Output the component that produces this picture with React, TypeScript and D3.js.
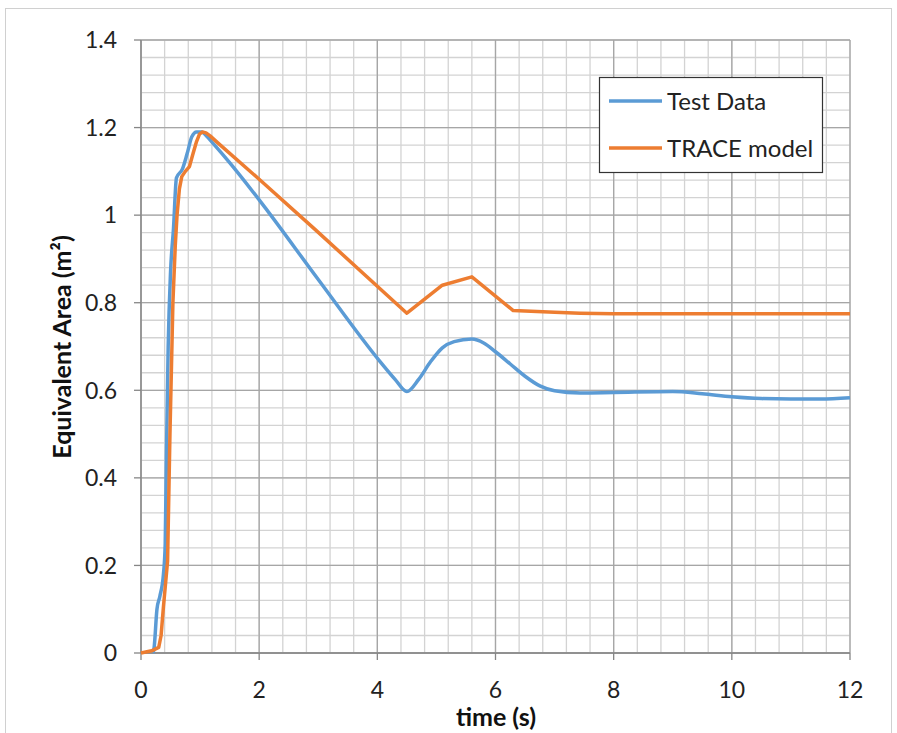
import React from "react";
import * as d3 from "d3";

const testT = [0.2, 0.22, 0.27, 0.32, 0.38, 0.41, 0.43, 0.46, 0.5, 0.55, 0.6, 0.7, 0.78, 0.86, 0.94, 1.03, 1.1, 1.22, 1.5, 2, 3, 4.05, 4.3, 4.5, 4.7, 4.9, 5.1, 5.3, 5.6, 5.8, 6.0, 6.25, 6.5, 6.75, 7.0, 7.43, 8, 9, 9.5, 10, 10.5, 11, 11.5, 12];
const testV = [0, 0.01, 0.1, 0.13, 0.18, 0.25, 0.45, 0.7, 0.87, 0.97, 1.085, 1.105, 1.14, 1.179, 1.19, 1.19, 1.182, 1.164, 1.12, 1.035, 0.853, 0.665, 0.625, 0.597, 0.625, 0.665, 0.697, 0.711, 0.717, 0.708, 0.688, 0.66, 0.632, 0.61, 0.599, 0.594, 0.595, 0.597, 0.592, 0.585, 0.581, 0.58, 0.58, 0.583];

const traceT = [0, 0.18, 0.3, 0.34, 0.38, 0.45, 0.49, 0.54, 0.58, 0.61, 0.65, 0.69, 0.75, 0.82, 0.88, 0.94, 0.99, 1.04, 1.1, 1.17, 1.3, 2, 2.94, 4.5, 5.1, 5.6, 6.3, 7.0, 7.43, 8, 10, 12];
const traceV = [0, 0.005, 0.013, 0.04, 0.106, 0.21, 0.5, 0.8, 0.93, 1.0, 1.06, 1.088, 1.1, 1.111, 1.14, 1.168, 1.185, 1.19, 1.188, 1.181, 1.165, 1.082, 0.968, 0.776, 0.84, 0.859, 0.782, 0.778, 0.776, 0.775, 0.775, 0.775];

const xTicks = [0, 2, 4, 6, 8, 10, 12];
const yTicks = [0, 0.2, 0.4, 0.6, 0.8, 1, 1.2, 1.4];
const seriesNames = ["Test Data", "TRACE model"];
const colors = ["#5B9BD5", "#ED7D31"];

export default function App() {
  const W = 897, H = 733;
  const left = 141, right = 850, top = 40, bottom = 653;
  const x = d3.scaleLinear().domain([0, 12]).range([left, right]);
  const y = d3.scaleLinear().domain([0, 1.4]).range([bottom, top]);

  const minorX = d3.range(0, 12.0001, 0.4).map((v) => +v.toFixed(2));
  const minorY = d3.range(0, 1.40001, 0.04).map((v) => +v.toFixed(3));

  const smooth = d3
    .line<[number, number]>()
    .x((d) => x(d[0]))
    .y((d) => y(d[1]))
    .curve(d3.curveMonotoneX);
  const straight = d3
    .line<[number, number]>()
    .x((d) => x(d[0]))
    .y((d) => y(d[1]))
    .curve(d3.curveLinear);

  const testData = testT.map((t, i) => [t, testV[i]] as [number, number]);
  const traceData = traceT.map((t, i) => [t, traceV[i]] as [number, number]);

  const font = "Lato, 'Open Sans', sans-serif";

  return (
    <svg width={W} height={H} style={{ position: "absolute", left: 0, top: 0, background: "#fff" }}>
      <rect x={5.5} y={8.5} width={886} height={740} fill="#fff" stroke="#d0d0d0" strokeWidth={1} />
      {minorX.map((v, i) => (
        <line key={"mx" + i} x1={x(v)} x2={x(v)} y1={top} y2={bottom} stroke="#d3d3d3" strokeWidth={1.3} />
      ))}
      {minorY.map((v, i) => (
        <line key={"my" + i} x1={left} x2={right} y1={y(v)} y2={y(v)} stroke="#d3d3d3" strokeWidth={1.3} />
      ))}
      {xTicks.map((v, i) => (
        <line key={"Mx" + i} x1={x(v)} x2={x(v)} y1={top} y2={bottom} stroke="#a6a6a6" strokeWidth={1.3} />
      ))}
      {yTicks.map((v, i) => (
        <line key={"My" + i} x1={left} x2={right} y1={y(v)} y2={y(v)} stroke="#a6a6a6" strokeWidth={1.3} />
      ))}
      <line x1={left} x2={left} y1={top} y2={bottom} stroke="#868686" strokeWidth={1.3} />
      <line x1={left} x2={right} y1={bottom} y2={bottom} stroke="#868686" strokeWidth={1.3} />
      {yTicks.map((v, i) => (
        <g key={"yt" + i}>
          <line x1={left - 7} x2={left} y1={y(v)} y2={y(v)} stroke="#868686" strokeWidth={1.3} />
          <text x={117} y={y(v)} dy="0.36em" textAnchor="end" fontSize={23} fontFamily={font} fill="#222">
            {String(v)}
          </text>
        </g>
      ))}
      {xTicks.map((v, i) => (
        <g key={"xt" + i}>
          <line x1={x(v)} x2={x(v)} y1={bottom} y2={bottom + 7} stroke="#868686" strokeWidth={1.3} />
          <text x={x(v)} y={698} textAnchor="middle" fontSize={23} fontFamily={font} fill="#222">
            {String(v)}
          </text>
        </g>
      ))}
      <path d={smooth(testData) || ""} fill="none" stroke={colors[0]} strokeWidth={3.5} strokeLinejoin="round" />
      <path d={straight(traceData) || ""} fill="none" stroke={colors[1]} strokeWidth={3.5} strokeLinejoin="round" />
      <text x={496} y={726} textAnchor="middle" fontSize={25} fontWeight="bold" fontFamily={font} fill="#111">
        time (s)
      </text>
      <text
        transform={`translate(71,${347}) rotate(-90)`}
        textAnchor="middle"
        fontSize={25}
        fontWeight="bold"
        fontFamily={font}
        fill="#111"
      >
        Equivalent Area (m²)
      </text>
      <rect x={599.5} y={77.5} width={223} height={95} fill="#fff" stroke="#333" strokeWidth={1.2} />
      {seriesNames.map((n, i) => (
        <g key={"lg" + i}>
          <line x1={609} x2={662} y1={101 + i * 47} y2={101 + i * 47} stroke={colors[i]} strokeWidth={3.5} />
          <text x={667} y={101 + i * 47} dy="0.36em" fontSize={24} fontFamily={font} fill="#222">
            {n}
          </text>
        </g>
      ))}
    </svg>
  );
}
